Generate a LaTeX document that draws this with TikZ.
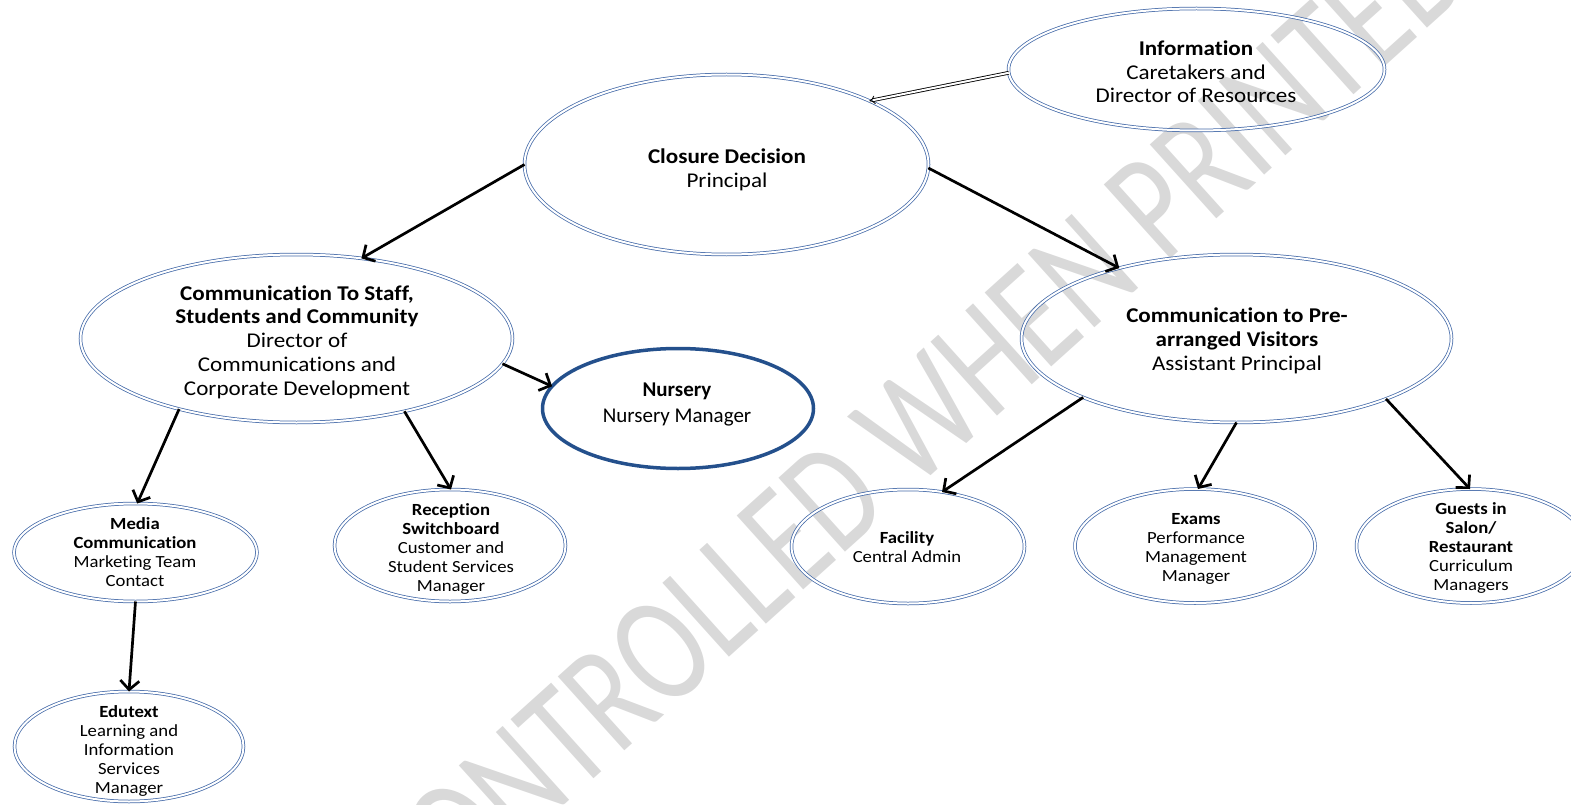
\documentclass[tikz,border=0pt]{standalone}
\usepackage{fontspec}
\usetikzlibrary{shapes.geometric,arrows.meta}
\newfontfamily\dfont{Carlito}[FakeStretch=1.1,Ligatures=NoCommon]
\newfontfamily\nfont{Carlito}[Ligatures=NoCommon]
\newfontfamily\wmfont{Carlito}[FakeStretch=0.76]
\definecolor{ellblue}{HTML}{4369A8}
\definecolor{nurblue}{HTML}{24508C}
\definecolor{wmgray}{HTML}{D9D9D9}
\tikzset{
  ell/.style={ellipse, draw=ellblue, double=white, double distance=2pt, line width=0.75pt, inner sep=0pt, outer sep=0pt},
  nurs/.style={ellipse, draw=nurblue, line width=3.5pt, inner sep=0pt, outer sep=0pt},
  bigtxt/.style={align=center, font=\dfont\fontsize{21}{23.7}\selectfont, inner sep=0pt, text=black},
  nurtxt/.style={align=center, font=\nfont\fontsize{21}{26}\selectfont, inner sep=0pt, text=black},
  smalltxt/.style={align=center, font=\dfont\fontsize{17}{19}\selectfont, inner sep=0pt, text=black},
  arr/.style={line width=2.7pt, black, -{Straight Barb[length=9pt,width=19pt]}},
  darr/.style={draw=black, double=white, double distance=2pt, line width=0.85pt, -{Implies[scale=1.2]}}
}
\begin{document}
\begin{tikzpicture}[x=1pt,y=-1pt]
\useasboundingbox (0,0) rectangle (1571,805);
\begin{scope}
\clip (0,0) rectangle (1571,805);
% watermark
\node[rotate=42, text=wmgray, font=\wmfont\fontsize{155}{155}\selectfont, inner sep=0pt] (wm) at (856,476) {UNCONTROLLED WHEN PRINTED};
% ellipses
\node[ell, minimum width=376pt, minimum height=122pt] (info) at (1196.5,69.5) {};
\node[ell, minimum width=404pt, minimum height=180pt] (closure) at (726.5,164.5) {};
\node[ell, minimum width=432pt, minimum height=168pt] (staff) at (296.5,338.5) {};
\node[ell, minimum width=430pt, minimum height=168pt] (pre) at (1236.5,338.5) {};
\node[nurs, minimum width=271pt, minimum height=120pt] (nursery) at (678,408.5) {};
\node[ell, minimum width=243pt, minimum height=98pt] (media) at (135.5,552.5) {};
\node[ell, minimum width=231pt, minimum height=112pt] (reception) at (450,545.5) {};
\node[ell, minimum width=233pt, minimum height=114pt] (facility) at (908,546.5) {};
\node[ell, minimum width=240pt, minimum height=114pt] (exams) at (1195,546) {};
\node[ell, minimum width=229pt, minimum height=114pt] (guests) at (1471,546) {};
\node[ell, minimum width=229pt, minimum height=110pt] (edutext) at (129,746.5) {};
% texts
\node[bigtxt] (infot) at (1196,72) {\textbf{Information}\\Caretakers and\\Director of Resources};
\node[bigtxt] (closuret) at (727,169.5) {\textbf{Closure Decision}\\Principal};
\node[bigtxt] (stafft) at (297,342) {\textbf{Communication To Staff,}\\\textbf{Students and Community}\\Director of\\Communications and\\Corporate Development};
\node[bigtxt] (pret) at (1237,341) {\textbf{Communication to Pre-}\\\textbf{arranged Visitors}\\Assistant Principal};
\node[nurtxt] (nurseryt) at (677,404) {\textbf{Nursery}\\Nursery Manager};
\node[smalltxt] (mediat) at (135,552) {\textbf{Media}\\\textbf{Communication}\\Marketing Team\\Contact};
\node[smalltxt] (receptiont) at (451,549) {\textbf{Reception}\\\textbf{Switchboard}\\Customer and\\Student Services\\Manager};
\node[smalltxt] (facilityt) at (907,547.5) {\textbf{Facility}\\Central Admin};
\node[smalltxt] (examst) at (1196,549) {\textbf{Exams}\\Performance\\Management\\Manager};
\node[smalltxt] (guestst) at (1471,548) {\textbf{Guests in}\\\textbf{Salon/}\\\textbf{Restaurant}\\Curriculum\\Managers};
\node[smalltxt] (edutextt) at (129,751) {\textbf{Edutext}\\Learning and\\Information\\Services\\Manager};
% connectors
\draw[darr] (info.181) -- (closure.24);
\draw[arr] (closure.180) -- (staff.51.3);
\draw[arr] (closure.359.5) -- (pre.149.4);
\draw[arr] (staff.353.3) -- (nursery.170.8);
\draw[arr] (staff.211.5) -- (media.88.7);
\draw[arr] (staff.326) -- (reception.89);
\draw[arr] (media.270.3) -- (edutext.90.7);
\draw[arr] (pre.201.5) -- (facility.58.9);
\draw[arr] (pre.270.3) -- (exams.87);
\draw[arr] (pre.338.6) -- (guests.91.6);
\end{scope}
\end{tikzpicture}
\end{document}
